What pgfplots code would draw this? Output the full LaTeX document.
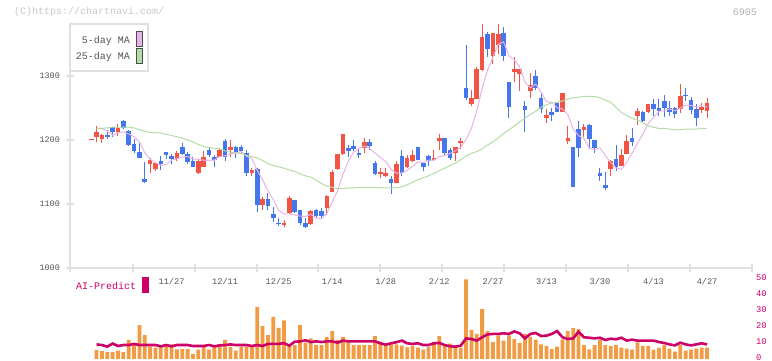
\documentclass[border=0pt]{standalone}
\usepackage{pgfplots}
\pgfplotsset{compat=1.18}
\usepackage{pgfplotstable}
\usepackage{fontspec}
\setmainfont{Liberation Mono}
\setmonofont{Liberation Mono}
\definecolor{cRed}{HTML}{F25544}
\definecolor{cBlue}{HTML}{4477EE}
\definecolor{cPink}{HTML}{E8B4E8}
\definecolor{cGreen}{HTML}{B4DCA8}
\definecolor{cOrange}{HTML}{F29B45}
\definecolor{cMag}{HTML}{CC0066}
\definecolor{cGrid}{HTML}{E0E0E0}
\definecolor{cText}{HTML}{555555}
\newcommand\fs[1]{\fontsize{#1}{#1}\selectfont}

\pgfplotstableread{
i O H L C
1 1200.5 1202 1200.5 1202
2 1204 1222 1197 1212
3 1202 1209 1196 1208
6 1213 1225 1207 1219
12 1163 1172 1148 1169
13 1155 1166 1152 1164
17 1170 1183 1167 1180
21 1148 1170 1147 1167
22 1158 1183 1158 1173
25 1173 1187 1173 1184
27 1184 1200 1173 1189
31 1148 1156 1144 1153
33 1098 1111 1091 1108
37 1067 1075 1064 1070
38 1086 1113 1084 1109
42 1069 1091 1067 1089
45 1094 1114 1083 1113
46 1119 1153 1119 1150
47 1155 1178 1153 1178
48 1178 1209 1177 1209
52 1188 1203 1180 1197
55 1147 1156 1141 1150
56 1144 1156 1142 1148
58 1133 1167 1133 1163
60 1158 1177 1156 1172
61 1167 1184 1166 1177
65 1169 1184 1167 1172
66 1198 1209 1184 1203
69 1180 1189 1167 1189
70 1195 1203 1186 1198
72 1256 1278 1253 1266
73 1264 1314 1264 1311
74 1309 1381 1308 1361
76 1331 1367 1319 1367
77 1348 1381 1334 1366
80 1306 1330 1290 1311
81 1303 1311 1277 1311
83 1277 1305 1266 1286
86 1234 1248 1227 1239
89 1244 1273 1244 1273
90 1198 1222 1194 1203
93 1216 1225 1205 1220
98 1155 1169 1144 1167
100 1159 1186 1159 1177
101 1178 1208 1178 1198
103 1237 1250 1223 1245
105 1244 1256 1242 1256
111 1248 1288 1242 1269
115 1247 1258 1242 1252
116 1245 1266 1234 1258
}\upTable

\pgfplotstableread{
i O H L C
4 1208 1216 1202 1204
5 1220 1221 1204 1213
7 1230 1232 1217 1219
8 1214 1216 1191 1192
9 1194 1202 1180 1183
10 1181 1195 1172 1172
11 1139 1165 1133 1134
14 1167 1175 1153 1163
15 1181 1181 1170 1177
16 1175 1178 1162 1170
18 1189 1195 1177 1178
19 1178 1181 1162 1166
20 1167 1173 1158 1158
23 1184 1189 1173 1177
24 1173 1177 1158 1169
26 1198 1202 1167 1173
28 1189 1191 1172 1181
29 1189 1192 1178 1183
30 1180 1185 1144 1148
32 1155 1156 1087 1098
34 1108 1117 1091 1097
35 1084 1095 1072 1078
36 1070.5 1078 1066 1069
39 1106 1106 1086 1088
40 1091 1091 1067 1070
41 1070 1078 1062 1064
43 1091 1092 1078 1081
44 1089 1094 1077 1081
49 1187 1192 1173 1183
50 1191 1200 1183 1186
51 1180 1186 1172 1177
53 1197 1202 1184 1191
54 1164 1167 1145 1147
57 1139 1144 1116 1133
59 1175 1184 1144 1148
62 1189 1189 1169 1169
63 1164 1164 1152 1158
64 1175 1177 1159 1167
67 1203 1203 1177 1180
68 1184 1188 1169 1172
71 1281 1348 1263 1266
75 1366 1369 1330 1342
78 1367 1377 1323 1331
79 1291 1291 1234 1252
82 1253 1261 1212 1247
84 1300 1309 1278 1281
85 1266 1275 1242 1248
87 1244 1250 1230 1239
88 1258 1258 1244 1244
91 1189 1189 1127 1127
92 1217 1230 1173 1187
94 1223 1225 1186 1202
95 1200 1200 1180 1187
96 1148 1156 1136 1144
97 1130 1150 1122 1125
99 1170 1192 1152 1158
102 1203 1219 1191 1197
104 1244 1245 1227 1230
106 1256 1264 1237 1248
107 1250 1264 1237 1245
108 1261 1270 1236 1250
109 1250 1261 1237 1244
110 1250 1252 1234 1241
112 1270 1281 1261 1268.5
113 1262 1267 1241 1247
114 1248 1256 1222 1234
}\downTable

\pgfplotstableread{
i m5 m25
2 1218 1218
3 1218 1218
4 1214 1219
5 1207.6 1220
6 1211.2 1220
7 1212.6 1220
8 1209.4 1220
9 1205.2 1219
10 1197 1216
11 1180 1214
12 1170 1212
13 1164.4 1211
14 1160.4 1211
15 1161.4 1209
16 1168.6 1207
17 1170.8 1205
18 1173.6 1203
19 1174.2 1200
20 1170.4 1197
21 1169.8 1193
22 1168.4 1190
23 1168.2 1188
24 1168.8 1187
25 1174 1186
26 1175.2 1183
27 1178.4 1181
28 1179.2 1180
29 1182 1179
30 1174.8 1176
31 1170.8 1174
32 1152.6 1172
33 1138 1168
34 1120.8 1163
35 1106.8 1160
36 1090 1158
37 1084.4 1156
38 1084.6 1153
39 1082.8 1151
40 1081.2 1147
41 1080.2 1144
42 1084 1142
43 1078.4 1137
44 1077 1132
45 1085.6 1128
46 1102.8 1126
47 1120.6 1124
48 1146.2 1124
49 1166.6 1125
50 1181.2 1125
51 1186.6 1126
52 1190.4 1126
53 1186.8 1126
54 1179.6 1126
55 1172.4 1125
56 1166.6 1125
57 1153.8 1125
58 1148.2 1125
59 1148.4 1127
60 1152.8 1130
61 1158.6 1134
62 1165.8 1138
63 1164.8 1141
64 1168.6 1144
65 1168.6 1148
66 1173.8 1152
67 1176 1156
68 1178.8 1160
69 1183.2 1164
70 1188.4 1169
71 1201 1175
72 1218.2 1179
73 1246 1182
74 1280.4 1186
75 1309.2 1192
76 1329.4 1197
77 1349.4 1203
78 1353.4 1210
79 1331.6 1216
80 1325.4 1222
81 1314.2 1228
82 1290.4 1234
83 1281.4 1240
84 1287.2 1245
85 1274.6 1251
86 1260.2 1255
87 1258.6 1258
88 1250.2 1259
89 1248.6 1261
90 1239.6 1264
91 1217.2 1266
92 1206.8 1267
93 1202 1268
94 1187.8 1268
95 1184.6 1268
96 1188 1266
97 1175.6 1262
98 1165 1259
99 1156.2 1251
100 1154.2 1243
101 1165 1238
102 1179.4 1234
103 1195 1231
104 1209.4 1227
105 1225.2 1222
106 1235.2 1220
107 1244.8 1218
108 1245.8 1218
109 1248.6 1217
110 1245.6 1216
111 1249.8 1216
112 1254.4 1217
113 1253.8 1217
114 1251.8 1217
115 1254 1218
116 1251.8 1218
}\maTable

\pgfplotstableread{
i v a
2 5.7 9.2
3 5.0 8.8
4 4.4 7.8
5 4.4 9.7
6 5.3 8.2
7 4.4 8.8
8 12.0 8.8
9 8.8 9.5
10 21.4 8.8
11 15.1 8.8
12 7.8 8.8
13 7.1 8.8
14 8.4 8.0
15 8.4 8.8
16 9.2 8.0
17 6.1 8.8
18 6.3 8.8
19 6.3 8.8
20 3.2 8.2
21 5.9 8.2
22 7.8 8.2
23 5.9 8.8
24 7.8 8.0
25 9.0 8.6
26 12.0 8.8
27 7.6 9.2
28 5.3 8.8
29 7.8 8.8
30 7.8 8.8
31 7.8 8.2
32 32.8 8.8
33 20.8 8.2
34 15.1 9.5
35 26.5 9.5
36 19.7 9.5
37 24.4 10.0
38 8.0 8.4
39 8.8 10.9
40 21.4 11.1
41 10.3 11.8
42 13.0 10.7
43 8.8 11.1
44 8.8 10.7
45 13.9 11.1
46 17.6 11.1
47 12.0 10.3
48 13.9 11.6
49 12.0 11.1
50 8.8 11.1
51 8.8 11.1
52 8.8 11.1
53 8.8 11.1
54 14.5 11.1
55 10.9 9.9
56 8.4 9.0
57 9.2 9.9
58 9.2 10.6
59 8.4 11.6
60 7.4 9.9
61 8.4 9.5
62 7.1 9.9
63 5.9 8.8
64 7.6 8.8
65 10.7 9.9
66 14.5 10.1
67 9.2 8.8
68 9.7 8.0
69 7.4 7.8
70 7.1 8.4
71 50.2 13.0
72 18.3 12.6
73 15.8 11.6
74 31.5 13.7
75 17.6 15.5
76 10.7 15.8
77 14.9 15.8
78 11.6 16.2
79 14.9 15.8
80 12.6 17.4
81 10.1 16.2
82 15.8 13.0
83 13.9 15.8
84 12.2 16.4
85 9.2 14.5
86 8.2 14.7
87 6.3 15.8
88 7.8 17.6
89 12.4 13.7
90 17.6 12.6
91 19.5 13.0
92 18.9 17.2
93 8.8 13.7
94 6.1 13.4
95 8.8 13.0
96 12.2 13.4
97 8.8 12.0
98 8.2 12.8
99 8.8 12.4
100 7.1 13.4
101 6.5 11.6
102 5.9 12.2
103 10.5 11.6
104 8.2 11.6
105 8.2 11.6
106 5.9 11.6
107 7.0 10.7
108 8.8 10.1
109 6.5 9.2
110 4.6 8.6
111 8.8 10.3
112 5.3 9.2
113 5.9 8.6
114 6.5 9.2
115 7.1 9.9
116 7.1 9.2
}\volTable

\begin{document}
\begin{tikzpicture}[x=1pt,y=1pt]
\path[use as bounding box] (0,0) rectangle (772,361);

\node[anchor=west, inner sep=0pt, text=black!22, font=\fs{10}] at (14,349) {(C)https://chartnavi.com/};
\node[anchor=east, inner sep=0pt, text=black!30, font=\fs{10}] at (757,349) {6905};

% ---------- price panel ----------
\begin{axis}[
  at={(70pt,93pt)}, anchor=south west, scale only axis,
  width=682pt, height=244pt,
  xmin=-2.96, xmax=124.39, ymin=1000, ymax=1381.25,
  axis lines=left, axis line style={draw=cGrid, line width=2pt, -},
  tick style={draw=cGrid, line width=1.5pt},
  tick align=center, major tick length=8pt,
  xtick={-2.96,8.81,20.38,31.96,43.35,54.93,66.51,78.09,89.66,101.24,112.82,124.39},
  xticklabels={},
  extra x ticks={16,26,36,46,56,66,76,86,96,106,116},
  extra x tick labels={11/27,12/11,12/25,1/14,1/28,2/12,2/27,3/13,3/30,4/13,4/27},
  extra x tick style={major tick length=0pt, tick label style={inner sep=0pt, anchor=north, yshift=-10pt, text=cText, font=\fs{8.6}}},
  ytick={1000,1100,1200,1300},
  yticklabels={1000,1100,1200,1300},
  yticklabel style={inner sep=0pt, anchor=east, xshift=-6pt, text=cText, font=\fs{8.4}},
  clip=false,
]
\addplot[forget plot, draw=none, mark=none, error bars/.cd, y dir=plus, y explicit, error mark=none,
  error bar style={draw=cRed, line width=1pt}] table[x=i, y=L, y error plus expr=\thisrow{H}-\thisrow{L}] {\upTable};
\addplot[forget plot, draw=none, mark=none, error bars/.cd, y dir=plus, y explicit, error mark=none,
  error bar style={draw=cBlue, line width=1pt}] table[x=i, y=L, y error plus expr=\thisrow{H}-\thisrow{L}] {\downTable};
\addplot[forget plot, draw=none, mark=none, error bars/.cd, y dir=plus, y explicit, error mark=none,
  error bar style={draw=cRed, line width=4.6pt}] table[x=i, y=O, y error plus expr=\thisrow{C}-\thisrow{O}] {\upTable};
\addplot[forget plot, draw=none, mark=none, error bars/.cd, y dir=plus, y explicit, error mark=none,
  error bar style={draw=cBlue, line width=4.6pt}] table[x=i, y=C, y error plus expr=\thisrow{O}-\thisrow{C}] {\downTable};
\addplot[cPink, line width=1pt, mark=none] table[x=i, y=m5] {\maTable};
\addplot[cGreen, line width=1pt, mark=none] table[x=i, y=m25] {\maTable};
\end{axis}

% legend box
\draw[cGrid, line width=1.5pt, fill=white] (70,290) rectangle (148,337);
\node[anchor=east, inner sep=0pt, text=cText, font=\fs{10}] at (130,320) {5-day MA};
\node[anchor=east, inner sep=0pt, text=cText, font=\fs{10}] at (130,304) {25-day MA};
\draw[black!70, line width=0.8pt, fill=cPink] (136.5,314.5) rectangle (142.5,330);
\draw[black!70, line width=0.8pt, fill=cGreen] (136.5,298) rectangle (142.5,312.5);

% ---------- volume / AI panel ----------
\begin{axis}[
  at={(70pt,2pt)}, anchor=south west, scale only axis,
  width=682pt, height=79.3pt,
  xmin=-2.96, xmax=124.39, ymin=0, ymax=50,
  axis line style={draw=none},
  xtick=\empty,
  ytick={0,10,20,30,40,50},
  yticklabels={0,10,20,30,40,50},
  yticklabel pos=right,
  major tick length=0pt,
  yticklabel style={inner sep=0pt, anchor=west, xshift=4pt, yshift=1.6pt, text=cMag, font=\fs{8.8}},
  clip=false,
]
\addplot[ybar, bar width=3.8pt, fill=cOrange, draw=none] table[x=i, y=v] {\volTable};
\addplot[cMag, line width=2.6pt, mark=none] table[x=i, y=a] {\volTable};
\end{axis}

\node[anchor=west, inner sep=0pt, text=cMag, font=\fs{10}] at (76,75) {AI-Predict};
\fill[cMag] (142,68) rectangle (149,84);
\end{tikzpicture}
\end{document}
